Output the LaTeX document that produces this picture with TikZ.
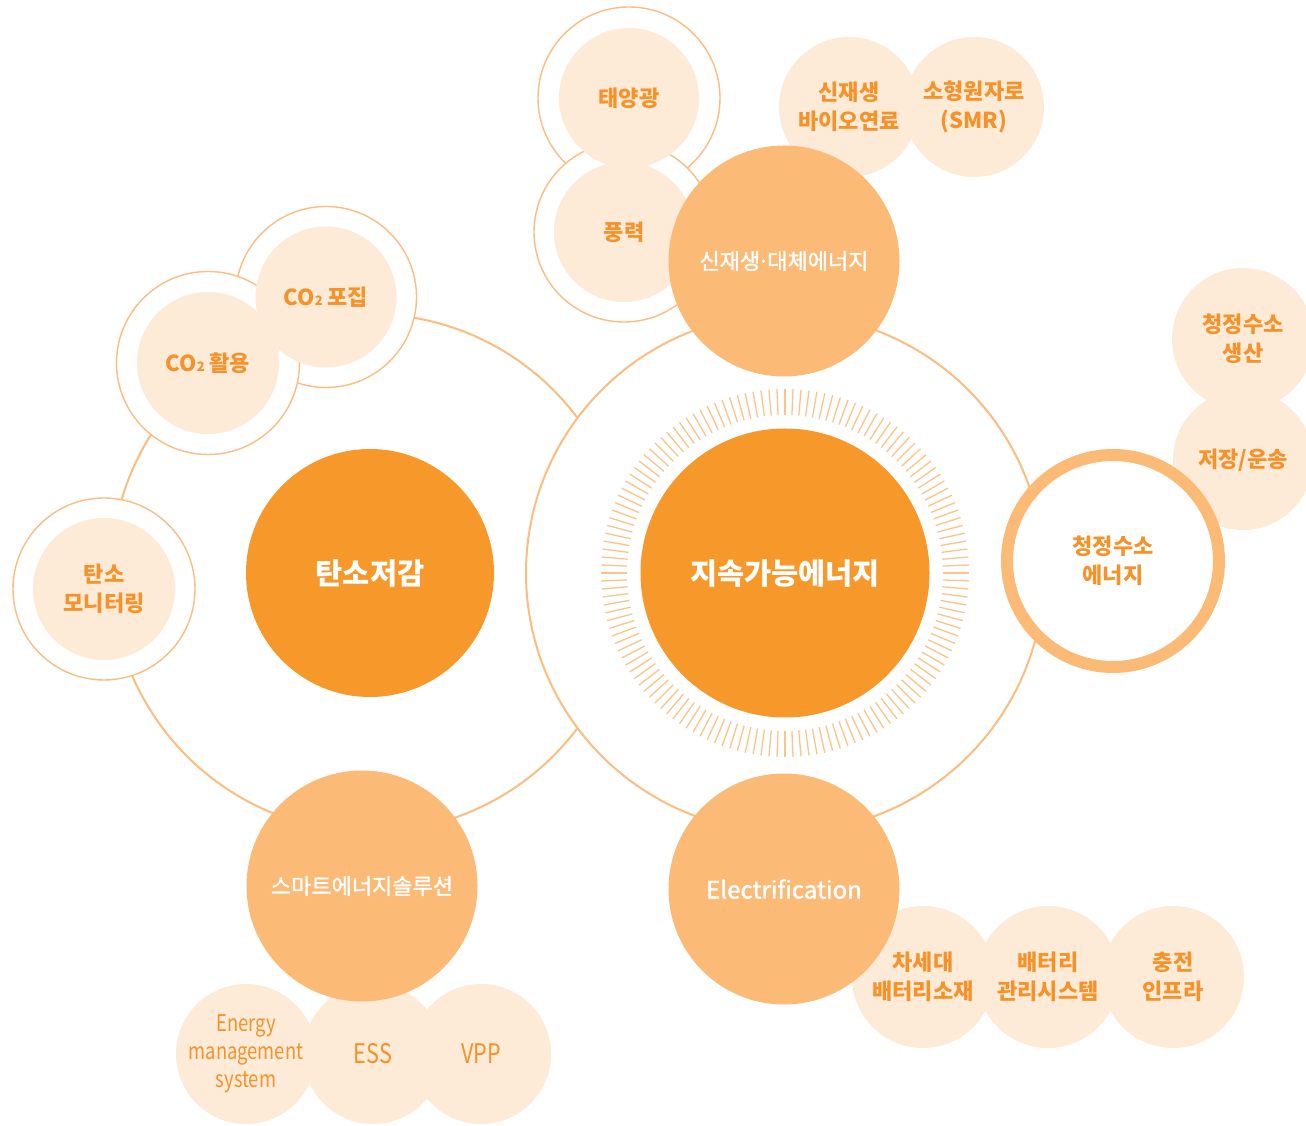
\documentclass[tikz,border=0pt]{standalone}
\usepackage{fontspec}
\usetikzlibrary{calc}
\setmainfont{Noto Sans CJK KR}
\newfontfamily\condfont{Noto Sans CJK KR}[FakeStretch=0.8]
\newfontfamily\medfont{Noto Sans CJK KR}[FakeBold=1.5]
\definecolor{mainor}{HTML}{F7992A}
\definecolor{lightor}{HTML}{FBBA76}
\definecolor{peach}{HTML}{FDEBD8}
\definecolor{txtor}{HTML}{F5922A}
\definecolor{ringc}{HTML}{FBBD80}
\definecolor{tickc}{HTML}{FBC48C}
\newcommand{\cotwo}{CO{\fontsize{13}{13}\selectfont 2}}
\newcommand{\mdot}{\kern-0.12em·\kern-0.12em}
\begin{document}
\begin{tikzpicture}[x=1pt,y=1pt,
  halo/.style={circle, draw=ringc, line width=1.4pt, fill=white, minimum size=#1, inner sep=0pt},
  peachc/.style={circle, fill=peach, minimum size=#1, inner sep=0pt, text=txtor, align=center,
    font=\bfseries\fontsize{22}{29}\selectfont},
  satc/.style={circle, fill=lightor, minimum size=231pt, inner sep=0pt, text=white, align=center,
    font=\medfont\fontsize{22}{26}\selectfont},
  mainc/.style={circle, fill=mainor, minimum size=#1, inner sep=0pt, text=white, align=center,
    font=\bfseries\fontsize{29.5}{32}\selectfont},
  bigring/.style={draw=ringc, line width=2pt}
]
\useasboundingbox (0,0) rectangle (1306,1125);
\fill[white] (0,0) rectangle (1306,1125);
% centres
\coordinate (cR) at (785,552);
\coordinate (cL) at (370,552);
% big rings
\draw[bigring] (cR) circle[radius=259];
\draw[bigring] (cL) ++(36.8:259) arc[start angle=36.8, end angle=323.2, radius=259];
% ticks
\foreach \a in {0,2.5,...,357.5}
  \draw[tickc, line width=1.3pt] ($(cR)+(\a:158)$) -- ($(cR)+(\a:184)$);
% central circles
\node[mainc=289pt] (sus) at (cR) {지속가능에너지};
\node[mainc=248pt] (carb) at (cL) {탄소저감};
% solar / wind
\node[halo=182pt] (solH) at (629,1027) {};
\node[halo=180pt] (winH) at (624,893) {};
\node[peachc=140pt] (sol) at (solH) {태양광};
\node[peachc=140pt] (win) at (winH) {풍력};
% CO2
\node[halo=181pt] (capH) at (326,828) {};
\node[halo=183pt] (useH) at (208,762) {};
\node[peachc=141pt] (cap) at (capH) {\cotwo\ 포집};
\node[peachc=142pt] (use) at (useH) {\cotwo\ 활용};
% monitoring
\node[halo=182pt] (monH) at (104,536) {};
\node[peachc=142pt] (mon) at (monH) {탄소\\모니터링};
% bio / SMR
\node[peachc=140pt] (smr) at (974,1018) {소형원자로\\(SMR)};
\node[peachc=140pt] (bio) at (849,1018) {신재생\\바이오연료};
% hydrogen
\node[peachc=142pt] (hprod) at (1243,786) {청정수소\\생산};
\node[peachc=140pt] (hsto) at (1243,665) {저장/운송};
\node[circle, draw=lightor, line width=12pt, fill=white, minimum size=212pt, inner sep=0pt,
  text=txtor, align=center, font=\bfseries\fontsize{22}{29}\selectfont] (h2) at (1113,564) {청정수소\\에너지};
% electrification children
\node[peachc=142pt] (bat1) at (923,148) {차세대\\배터리소재};
\node[peachc=142pt] (bat2) at (1048,148) {배터리\\관리시스템};
\node[peachc=142pt] (chg) at (1173,148) {충전\\인프라};
\node[satc, font=\medfont\fontsize{24}{28}\selectfont] (elec) at (784,236) {Electrification};
% smart energy children
\node[peachc=140pt, font=\condfont\fontsize{23}{28}\selectfont] (ems) at (246,71) {Energy\\management\\system};
\node[peachc=140pt, font=\condfont\fontsize{27}{28}\selectfont] (ess) at (373,71) {ESS};
\node[peachc=140pt, font=\condfont\fontsize{27}{28}\selectfont] (vpp) at (481,71) {VPP};
\node[satc] (smart) at (362,239) {스마트에너지솔루션};
% renewable
\node[satc] (ren) at (784,864) {신재생\mdot 대체에너지};
\end{tikzpicture}
\end{document}
